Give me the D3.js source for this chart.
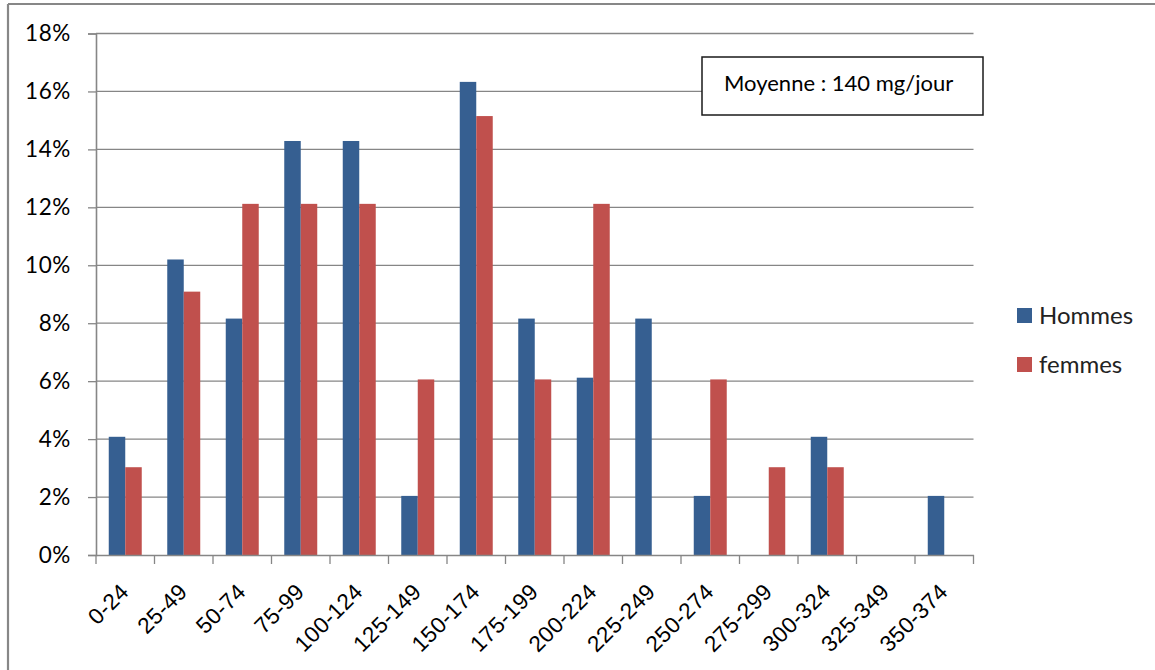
<!DOCTYPE html>
<html>
<head>
<meta charset="utf-8">
<script src="https://cdn.jsdelivr.net/npm/d3@7"></script>
<style>
  html, body { margin: 0; padding: 0; background: #fff; }
  svg { display: block; font-family: Lato, "Open Sans", sans-serif; }
</style>
</head>
<body>
<svg id="chart" width="1155" height="670"></svg>
<script>
const categories = ["0-24","25-49","50-74","75-99","100-124","125-149","150-174","175-199","200-224","225-249","250-274","275-299","300-324","325-349","350-374"];
const seriesNames = ["Hommes", "femmes"];
const hommes = [4.08, 10.20, 8.16, 14.29, 14.29, 2.04, 16.33, 8.16, 6.12, 8.16, 2.04, 0, 4.08, 0, 2.04];
const femmes = [3.03, 9.09, 12.12, 12.12, 12.12, 6.06, 15.15, 6.06, 12.12, 0, 6.06, 3.03, 3.03, 0, 0];
const yTicks = [0, 2, 4, 6, 8, 10, 12, 14, 16, 18];
const annotation = "Moyenne : 140 mg/jour";
const colors = ["#365F91", "#C0504D"];

const svg = d3.select("#chart");
const plotLeft = 96, plotRight = 973.5, plotTop = 33.5, plotBottom = 555;

// outer frame (top and left edges visible)
svg.append("line").attr("x1", 8).attr("x2", 1155).attr("y1", 4).attr("y2", 4)
  .attr("stroke", "#878787").attr("stroke-width", 2.2);
svg.append("line").attr("x1", 8).attr("x2", 8).attr("y1", 4).attr("y2", 670)
  .attr("stroke", "#878787").attr("stroke-width", 2.2);

const x = d3.scaleBand().domain(categories).range([plotLeft, plotRight]).padding(0);
const xs = d3.scaleBand().domain(seriesNames).range([0, x.bandwidth()]).paddingInner(0).paddingOuter(0.773);
const y = d3.scaleLinear().domain([0, 18]).range([plotBottom, plotTop]);

// gridlines
svg.append("g").selectAll("line").data(yTicks.filter(d => d > 0)).join("line")
  .attr("x1", plotLeft).attr("x2", plotRight)
  .attr("y1", d => y(d)).attr("y2", d => y(d))
  .attr("stroke", "#868686").attr("stroke-width", 1.3);

// y axis
const yAxis = svg.append("g").attr("transform", `translate(${plotLeft},0)`)
  .call(d3.axisLeft(y).tickValues(yTicks).tickSize(8).tickPadding(17).tickFormat(d => d + "%"));
yAxis.select(".domain").attr("stroke", "#868686").attr("stroke-width", 1.6);
yAxis.selectAll(".tick line").attr("stroke", "#868686").attr("stroke-width", 1.3);
yAxis.selectAll("text").attr("font-size", 22.5).attr("letter-spacing", 0.6).attr("fill", "#000").attr("font-family", "Lato");

// bars
const data = categories.map((c, i) => ({ c, vals: [hommes[i], femmes[i]] }));
const groups = svg.append("g").selectAll("g").data(data).join("g")
  .attr("transform", d => `translate(${x(d.c)},0)`);
groups.selectAll("rect").data(d => d.vals.map((v, j) => ({ v, s: seriesNames[j], j })))
  .join("rect")
  .attr("x", d => xs(d.s))
  .attr("width", xs.bandwidth())
  .attr("y", d => y(d.v))
  .attr("height", d => y(0) - y(d.v))
  .attr("fill", d => colors[d.j]);

// x axis
const xAxis = svg.append("g").attr("transform", `translate(0,${plotBottom})`)
  .call(d3.axisBottom(x).tickSize(0).tickFormat(""));
xAxis.select(".domain").attr("stroke", "#868686").attr("stroke-width", 1.6);
const bounds = categories.map(c => x(c)).concat([plotRight]);
xAxis.append("g").selectAll("line").data(bounds).join("line")
  .attr("x1", d => d).attr("x2", d => d).attr("y1", 0).attr("y2", 9)
  .attr("stroke", "#868686").attr("stroke-width", 1.3);
xAxis.append("g").selectAll("text").data(categories).join("text")
  .attr("transform", d => `translate(${x(d) + x.bandwidth() / 2 + 5},${38}) rotate(-45)`)
  .attr("text-anchor", "end")
  .attr("font-size", 22.5)
  .attr("letter-spacing", 0.4)
  .attr("fill", "#000")
  .text(d => d);

// annotation box
const ann = svg.append("g");
ann.append("rect").attr("x", 702).attr("y", 57).attr("width", 281).attr("height", 58)
  .attr("fill", "#fff").attr("stroke", "#1a1a1a").attr("stroke-width", 1.5);
ann.append("text").attr("x", 724).attr("y", 91).attr("font-size", 22).attr("fill", "#000").text(annotation);

// legend
const legend = svg.append("g").selectAll("g").data(seriesNames).join("g")
  .attr("transform", (d, i) => `translate(1017,${308 + i * 49})`);
legend.append("rect").attr("width", 15).attr("height", 15).attr("fill", (d, i) => colors[i]);
legend.append("text").attr("x", 22).attr("y", 16).attr("font-size", 24).attr("fill", "#222").text(d => d);
</script>
</body>
</html>
